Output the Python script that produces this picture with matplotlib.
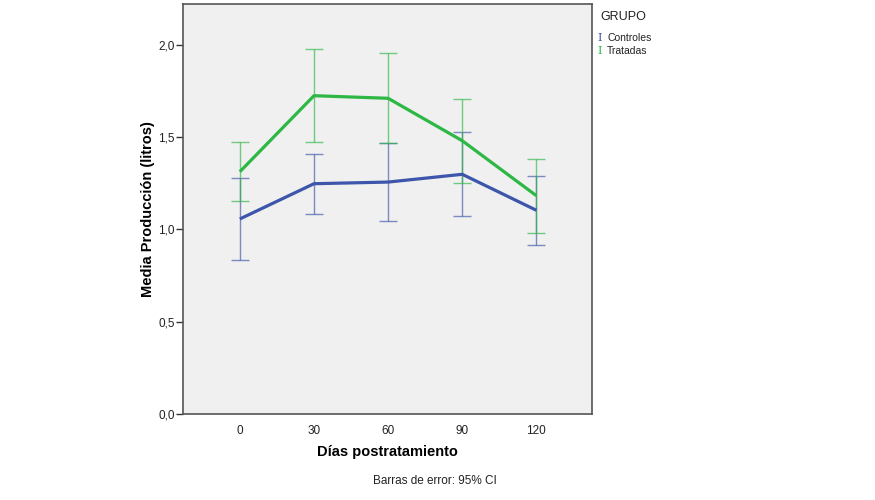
import matplotlib
matplotlib.use("Agg")
import matplotlib.pyplot as plt
import numpy as np

plt.rcParams['font.family'] = ['Liberation Sans', 'DejaVu Sans']

dias = [0, 30, 60, 90, 120]
grupos = ["Controles", "Tratadas"]
colores = ["#3D55AA", "#2DB744"]

controles_media = [1.057, 1.248, 1.257, 1.299, 1.104]
controles_inf = [0.833, 1.086, 1.046, 1.073, 0.914]
controles_sup = [1.281, 1.408, 1.470, 1.530, 1.288]

tratadas_media = [1.313, 1.725, 1.711, 1.481, 1.183]
tratadas_inf = [1.153, 1.473, 1.471, 1.250, 0.983]
tratadas_sup = [1.476, 1.978, 1.957, 1.709, 1.382]

yticks = [0.0, 0.5, 1.0, 1.5, 2.0]
ytick_labels = ["0,0", "0,5", "1,0", "1,5", "2,0"]

fig = plt.figure(figsize=(8.75, 5), dpi=100)
ax = fig.add_axes([183/875, 86/500, 409/875, 410/500])
ax.set_facecolor("#F0F0F0")

series = [
    (controles_media, controles_inf, controles_sup),
    (tratadas_media, tratadas_inf, tratadas_sup),
]
for (m, lo, hi), c in zip(series, colores):
    m = np.array(m); lo = np.array(lo); hi = np.array(hi)
    ax.errorbar(dias, m, yerr=[m - lo, hi - m], fmt='none', ecolor=c,
                elinewidth=1.0, capsize=6.8, capthick=1.0, alpha=0.65, zorder=2)
for (m, lo, hi), c in zip(series, colores):
    ax.plot(dias, m, color=c, lw=2.3, zorder=3, solid_capstyle='butt')

ax.set_xlim(-23, 142.5)
ax.set_ylim(0, 2.222)
ax.set_xticks(dias)
ax.set_xticklabels([str(d) for d in dias], fontsize=8.5, color="#222222")
ax.set_yticks(yticks)
ax.set_yticklabels(ytick_labels, fontsize=8.5, color="#222222")
ax.tick_params(axis='y', direction='out', length=5, width=1, color="#333333", pad=1)
ax.tick_params(axis='x', direction='out', length=0, pad=8)
for s in ax.spines.values():
    s.set_color("#555555")
    s.set_linewidth(1.2)

ax.set_xlabel("Días postratamiento", fontsize=10.5, fontweight='bold', labelpad=6)
ax.set_ylabel("Media Producción (litros)", fontsize=10.5, fontweight='bold', labelpad=2)

fig.text(600/875, 1 - 17/500, "GRUPO", fontsize=9, va='center', ha='left', color="#222222")
for i, (g, c) in enumerate(zip(grupos, colores)):
    y = 1 - (38 + 13 * i) / 500
    fig.text(597/875, y, "I", fontsize=8, color=c, va='center', ha='left', family='DejaVu Serif')
    fig.text(607/875, y, g, fontsize=7.5, va='center', ha='left', color="#222222")

fig.text(435/875, 1 - 481/500, "Barras de error: 95% CI", fontsize=8.5, ha='center', va='center', color="#222222")

fig.savefig("out.png", dpi=100, facecolor="white")
